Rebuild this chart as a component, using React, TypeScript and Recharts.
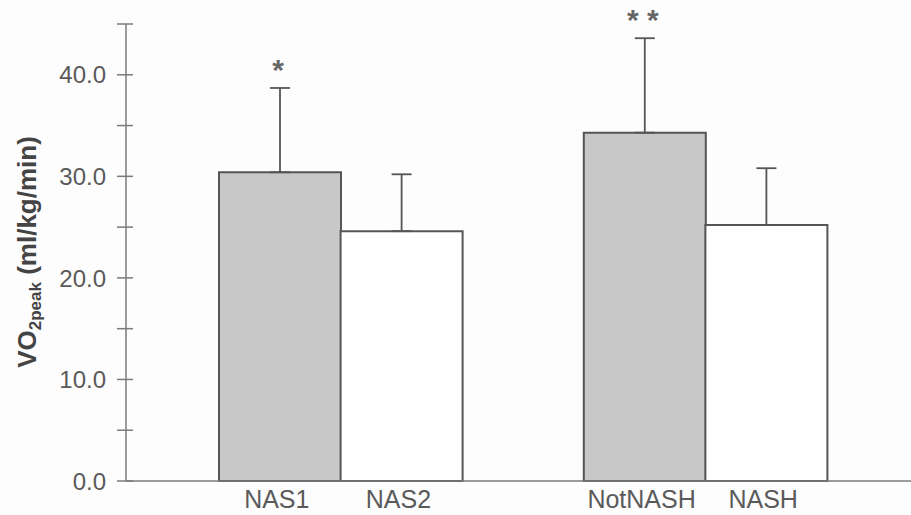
import { Bar, BarChart, Cell, ErrorBar, LabelList, XAxis, YAxis } from "recharts"

// empty string is the spacer slot between the two groups
const categories = ["NAS1", "NAS2", "", "NotNASH", "NASH"]
const means: (number | null)[] = [30.4, 24.6, null, 34.3, 25.2]
const sds: (number | null)[] = [8.3, 5.6, null, 9.3, 5.6]
const marks = ["*", "", "", "* *", ""]
const fills = ["#c8c8c8", "#ffffff", "none", "#c8c8c8", "#ffffff"]
const yTicks = [0, 5, 10, 15, 20, 25, 30, 35, 40, 45]

const data = categories.map((name, i) => ({
  name,
  mean: means[i],
  err: sds[i] == null ? null : [0, sds[i]],
  mark: marks[i],
}))

const FONT = '"Liberation Sans", Arial, sans-serif'
const TEXT = "#5a5a5a"
const AXIS = "#7a7a7a"
const EDGE = "#555555"

function YTick(props: any) {
  const { x, y, payload } = props
  const v = payload.value as number
  return (
    <g>
      <line x1={x - 9} x2={x + 7} y1={y} y2={y} stroke={AXIS} strokeWidth={1.5} />
      {v % 10 === 0 && (
        <text
          x={x - 20}
          y={y}
          dy="0.36em"
          textAnchor="end"
          fontFamily={FONT}
          fontSize={24}
          fill={TEXT}
        >
          {v.toFixed(1)}
        </text>
      )}
    </g>
  )
}

function XTick(props: any) {
  const { x, y, payload } = props
  if (!payload.value) return null
  return (
    <text x={x - 3} y={y + 27} textAnchor="middle" fontFamily={FONT} fontSize={25} fill={TEXT}>
      {payload.value}
    </text>
  )
}

function MarkLabel(props: any) {
  const { x, y, width, height, value } = props
  if (!value) return null
  // label index can skip the empty slot, so look the bar up by its mark
  const i = marks.indexOf(value)
  const m = means[i]
  const sd = sds[i]
  if (m == null || sd == null) return null
  const errTop = y - (height / m) * sd
  return (
    <text
      x={x + width / 2 - 2}
      y={errTop - 8}
      textAnchor="middle"
      fontFamily={FONT}
      fontSize={30}
      fontWeight="bold"
      fill="#666"
    >
      {value}
    </text>
  )
}

export default function App() {
  return (
    <div style={{ position: "absolute", left: 0, top: 0, width: 911, height: 515, background: "#fdfdfd" }}>
      <BarChart
        width={911}
        height={515}
        data={data}
        margin={{ top: 24, right: 0, bottom: 0, left: 0 }}
        barCategoryGap={0}
      >
        <XAxis
          dataKey="name"
          height={34}
          padding={{ left: 93, right: 84 }}
          axisLine={{ stroke: AXIS, strokeWidth: 1.5 }}
          tickLine={false}
          tickSize={0}
          tickMargin={0}
          tick={<XTick />}
          interval={0}
        />
        <YAxis
          width={126}
          domain={[0, 45]}
          ticks={yTicks}
          interval={0}
          axisLine={{ stroke: AXIS, strokeWidth: 1.5 }}
          tickLine={false}
          tickSize={0}
          tickMargin={0}
          tick={<YTick />}
        />
        <Bar dataKey="mean" isAnimationActive={false} stroke={EDGE} strokeWidth={2}>
          {data.map((d, i) => (
            <Cell key={i} fill={fills[i]} />
          ))}
          <ErrorBar dataKey="err" width={10} stroke={EDGE} strokeWidth={1.8} direction="y" />
          <LabelList dataKey="mark" content={<MarkLabel />} />
        </Bar>
      </BarChart>
      <svg
        width={60}
        height={515}
        style={{ position: "absolute", left: 0, top: 0, pointerEvents: "none" }}
      >
        <text
          transform="translate(36,252) rotate(-90)"
          textAnchor="middle"
          fontFamily={FONT}
          fontWeight="bold"
          fontSize={26}
          fill="#444"
        >
          VO
          <tspan fontSize={17} dy={5}>
            2peak
          </tspan>
          <tspan dy={-5}> (ml/kg/min)</tspan>
        </text>
      </svg>
    </div>
  )
}
